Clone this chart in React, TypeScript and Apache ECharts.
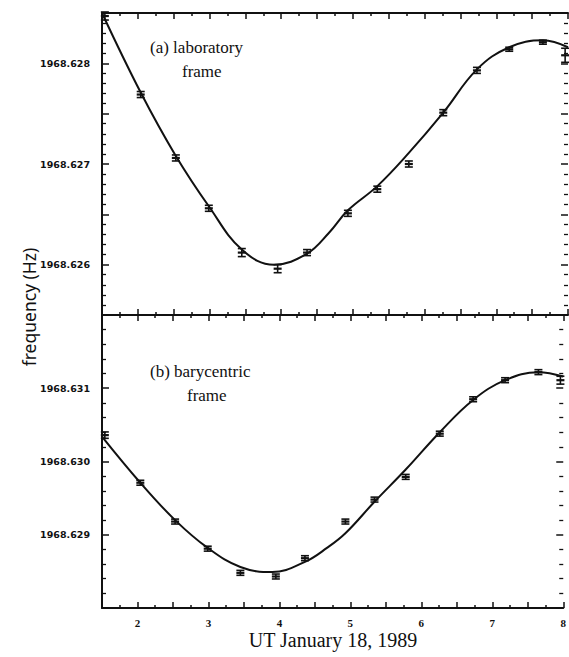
import React, { useEffect, useRef } from "react";
import * as echarts from "echarts";

const obsTime = [1.54, 2.04, 2.53, 2.99, 3.45, 3.95, 4.36, 4.93, 5.34, 5.78, 6.26, 6.73, 7.18, 7.65, 7.96];
const labFreq = [1968.62847, 1968.62769, 1968.62706, 1968.62656, 1968.62612, 1968.62596, 1968.62612, 1968.62651, 1968.62675, 1968.627, 1968.62751, 1968.62793, 1968.62814, 1968.62821, 1968.62808];
const labErr = [0.00003, 0.00002, 0.00002, 0.00002, 0.00003, 0.00003, 0.00002, 0.00002, 0.00002, 0.00002, 0.00002, 0.00002, 0.00001, 0.00001, 0.00006];
const baryFreq = [1968.63036, 1968.62971, 1968.62918, 1968.62881, 1968.62848, 1968.62843, 1968.62868, 1968.62918, 1968.62948, 1968.62979, 1968.63038, 1968.63085, 1968.63111, 1968.63122, 1968.63111];
const baryErr = [0.00003, 0.00002, 0.00002, 0.00002, 0.00002, 0.00002, 0.00002, 0.00002, 0.00002, 0.00002, 0.00002, 0.00002, 0.00002, 0.00002, 0.00004];

const fitTime = [1.5, 2.04, 2.53, 2.99, 3.45, 3.9, 4.36, 4.67, 4.93, 5.34, 5.78, 6.26, 6.73, 7.18, 7.65, 8.0];
const labFit = [1968.6285, 1968.62771, 1968.62708, 1968.62658, 1968.62615, 1968.626, 1968.62611, 1968.62632, 1968.62654, 1968.62678, 1968.62711, 1968.62751, 1968.62794, 1968.62816, 1968.62823, 1968.62816];
const baryFit = [1968.63034, 1968.62971, 1968.6292, 1968.62882, 1968.62856, 1968.62849, 1968.62863, 1968.62882, 1968.62902, 1968.62945, 1968.62989, 1968.6304, 1968.63084, 1968.63111, 1968.63122, 1968.63116];

const xTicks = { min: 1.5, max: 8, interval: 0.5 };
const labRange = { min: 1968.6255, max: 1968.6285, interval: 0.0005 };
const baryRange = { min: 1968.628, max: 1968.632, interval: 0.001 };

const ink = "#111";

function errorRender(params: any, api: any) {
  const x = api.value(0);
  const y = api.value(1);
  const e = api.value(2);
  const p = api.coord([x, y]);
  const lo = api.coord([x, y - e]);
  const hi = api.coord([x, y + e]);
  const w = 4;
  const st = { stroke: ink, lineWidth: 1.6 };
  return {
    type: "group",
    children: [
      { type: "line", shape: { x1: p[0], y1: lo[1] + 1, x2: p[0], y2: hi[1] - 1 }, style: st },
      { type: "line", shape: { x1: p[0] - w, y1: lo[1] + 1, x2: p[0] + w, y2: lo[1] + 1 }, style: st },
      { type: "line", shape: { x1: p[0] - w, y1: hi[1] - 1, x2: p[0] + w, y2: hi[1] - 1 }, style: st },
      { type: "line", shape: { x1: p[0] - w, y1: p[1], x2: p[0] + w, y2: p[1] }, style: { stroke: ink, lineWidth: 2.2 } },
    ],
  };
}

function isThousandth(v: number) {
  return Math.abs(v * 1000 - Math.round(v * 1000)) < 1e-4;
}

export default function App() {
  const ref = useRef<HTMLDivElement>(null);
  useEffect(() => {
    if (!ref.current) return;
    const chart = echarts.init(ref.current, undefined, { renderer: "svg" });
    const axisLine = { show: true, lineStyle: { color: ink, width: 2 } };
    const xBase = (grid: number, position: string, labels: boolean) => ({
      type: "value",
      gridIndex: grid,
      position,
      min: xTicks.min,
      max: xTicks.max,
      interval: xTicks.interval,
      axisLine,
      axisTick: { show: true, inside: true, length: 6, lineStyle: { color: ink, width: 1.5 } },
      minorTick: { show: true, splitNumber: 2, length: 3, lineStyle: { color: ink, width: 1.5 } },
      splitLine: { show: false },
      axisLabel: labels
        ? {
            show: true,
            margin: 9,
            color: ink,
            fontFamily: "Liberation Serif",
            fontWeight: "bold",
            fontSize: 11,
            formatter: (v: number) => (Math.abs(v - Math.round(v)) < 1e-6 ? String(Math.round(v)) : ""),
          }
        : { show: false },
    });
    const yBase = (grid: number, position: string, range: any, labels: boolean) => ({
      type: "value",
      gridIndex: grid,
      position,
      min: range.min,
      max: range.max,
      interval: range.interval,
      axisLine: position === "right" ? { show: false } : axisLine,
      axisTick: { show: true, inside: true, length: 7, lineStyle: { color: ink, width: 1.5 } },
      minorTick: { show: true, splitNumber: 5, length: 4, lineStyle: { color: ink, width: 1.3 } },
      splitLine: { show: false },
      axisLabel: labels
        ? {
            show: true,
            margin: 12,
            color: ink,
            showMinLabel: false,
            showMaxLabel: false,
            fontFamily: "DejaVu Sans",
            fontWeight: "bold",
            fontSize: 9.5,
            formatter: (v: number) => (isThousandth(v) ? v.toFixed(3) : ""),
          }
        : { show: false },
    });

    chart.setOption({
      animation: false,
      backgroundColor: "#fff",
      grid: [
        { left: 102, top: 13, width: 466, height: 302 },
        { left: 102, top: 315, width: 466, height: 293 },
      ],
      xAxis: [xBase(0, "bottom", false), xBase(0, "top", false), xBase(1, "bottom", true), xBase(1, "top", false)],
      yAxis: [
        yBase(0, "left", labRange, true),
        yBase(0, "right", labRange, false),
        yBase(1, "left", baryRange, true),
        yBase(1, "right", baryRange, false),
      ],
      graphic: [
        {
          type: "text",
          x: 29,
          y: 307,
          rotation: Math.PI / 2,
          style: { text: "frequency (Hz)", fontFamily: "Noto Sans", fontSize: 17.5, fill: ink, align: "center", verticalAlign: "middle" },
        },
        {
          type: "text",
          x: 333,
          y: 640,
          style: { text: "UT January 18, 1989", fontFamily: "Liberation Serif", fontSize: 20, fill: ink, align: "center", verticalAlign: "middle" },
        },
        {
          type: "text",
          x: 150,
          y: 47,
          style: { text: "(a) laboratory", fontFamily: "Liberation Serif", fontSize: 17, fill: ink, align: "left", verticalAlign: "middle" },
        },
        {
          type: "text",
          x: 182,
          y: 71,
          style: { text: "frame", fontFamily: "Liberation Serif", fontSize: 17, fill: ink, align: "left", verticalAlign: "middle" },
        },
        {
          type: "text",
          x: 150,
          y: 371,
          style: { text: "(b) barycentric", fontFamily: "Liberation Serif", fontSize: 17, fill: ink, align: "left", verticalAlign: "middle" },
        },
        {
          type: "text",
          x: 187,
          y: 395,
          style: { text: "frame", fontFamily: "Liberation Serif", fontSize: 17, fill: ink, align: "left", verticalAlign: "middle" },
        },
      ],
      series: [
        {
          type: "line",
          xAxisIndex: 0,
          yAxisIndex: 0,
          data: fitTime.map((t, i) => [t, labFit[i]]),
          smooth: 0.4,
          showSymbol: false,
          symbol: "none",
          lineStyle: { color: ink, width: 2 },
        },
        {
          type: "custom",
          xAxisIndex: 0,
          yAxisIndex: 0,
          data: obsTime.map((t, i) => [t, labFreq[i], labErr[i]]),
          renderItem: errorRender,
        },
        {
          type: "line",
          xAxisIndex: 2,
          yAxisIndex: 2,
          data: fitTime.map((t, i) => [t, baryFit[i]]),
          smooth: 0.4,
          showSymbol: false,
          symbol: "none",
          lineStyle: { color: ink, width: 2 },
        },
        {
          type: "custom",
          xAxisIndex: 2,
          yAxisIndex: 2,
          data: obsTime.map((t, i) => [t, baryFreq[i], baryErr[i]]),
          renderItem: errorRender,
        },
      ],
    });
    return () => chart.dispose();
  }, []);
  return <div ref={ref} style={{ position: "fixed", left: 0, top: 0, width: 569, height: 657 }} />;
}
